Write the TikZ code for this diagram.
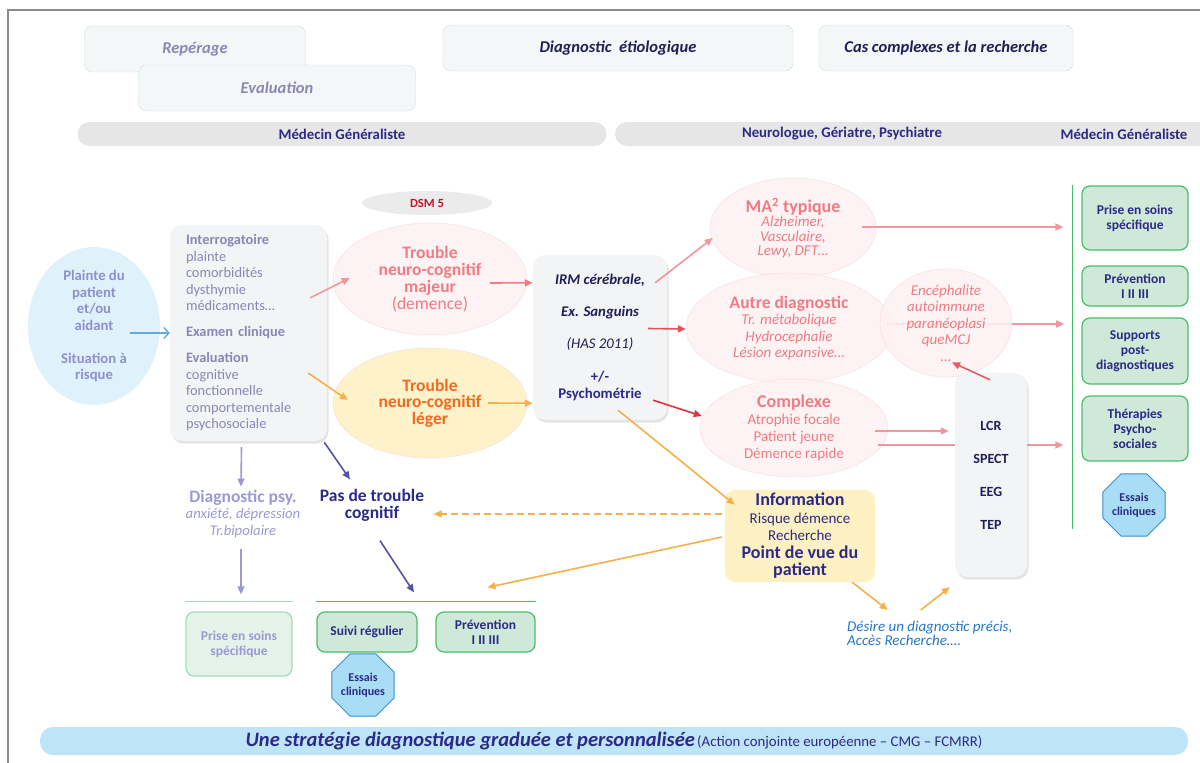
\documentclass[tikz,border=0pt]{standalone}
\usepackage{fontspec}
\setmainfont{Carlito}
\usepackage{xcolor}
\usetikzlibrary{shapes.geometric,arrows.meta,calc,shadows}

\definecolor{navy}{HTML}{2B2A86}
\definecolor{inknavy}{HTML}{1E1F55}
\definecolor{lavtext}{HTML}{8A87B6}
\definecolor{lavlight}{HTML}{9B99D3}
\definecolor{lavblue}{HTML}{8F8FCB}
\definecolor{salmon}{HTML}{EE7C84}
\definecolor{orgtext}{HTML}{F26A21}
\definecolor{orgarr}{HTML}{F6B04A}
\definecolor{pinkarr}{HTML}{F3959C}
\definecolor{redarr}{HTML}{E5303C}
\definecolor{skyarr}{HTML}{62AADD}
\definecolor{purparr}{HTML}{5553A8}
\definecolor{grnline}{HTML}{4CBB6C}
\definecolor{grnfill}{HTML}{CFE9D9}
\definecolor{grnpale}{HTML}{A6DBBA}
\definecolor{grnpalefill}{HTML}{E4F3EA}
\definecolor{octfill}{HTML}{A9DCF5}
\definecolor{octline}{HTML}{3A8ED0}
\definecolor{bandgray}{HTML}{E6E6E6}
\definecolor{bandblue}{HTML}{BEE4F8}
\definecolor{boxgray}{HTML}{F4F7F7}
\definecolor{boxline}{HTML}{D3DBDB}
\definecolor{panelgray}{HTML}{F3F4F6}
\definecolor{infofill}{HTML}{FDF1C3}
\definecolor{descblue}{HTML}{2477C6}
\definecolor{skyfill}{HTML}{DFF2FB}
\definecolor{pinkfill}{HTML}{FDF1F2}
\definecolor{pinkedge}{HTML}{F9DADD}
\definecolor{yelfill}{HTML}{FDF0C2}
\definecolor{dsmgray}{HTML}{EBEBEB}
\definecolor{dsmred}{HTML}{C01530}
\definecolor{framegray}{HTML}{8C8C8C}

\begin{document}
\begin{tikzpicture}[
  x=1pt, y=-1pt,
  every node/.style={align=center},
  phase/.style={draw=boxline, fill=boxgray, rounded corners=8pt, minimum height=46pt, font=\fontsize{16.5}{19}\selectfont\bfseries\itshape},
  band/.style={fill=bandgray, rounded corners=12pt, minimum height=24pt},
  who/.style={text=navy, font=\fontsize{14.8}{17}\selectfont\bfseries},
  cloud/.style={ellipse, draw=pinkedge, fill=pinkfill, fill opacity=0.88, text opacity=1, text=salmon, inner sep=0pt},
  panel/.style={fill=panelgray, rounded corners=12pt, drop shadow={shadow xshift=1.5pt, shadow yshift=-2.5pt, opacity=0.22}},
  care/.style={draw=grnline, fill=grnfill, line width=1.2pt, rounded corners=8pt, text=navy, minimum width=106pt, font=\fontsize{13.5}{15}\selectfont\bfseries},
  octo/.style={regular polygon, regular polygon sides=8, draw=octline, fill=octfill, line width=1pt, minimum size=64pt, inner sep=0pt, text=navy, font=\fontsize{12}{14}\selectfont\bfseries},
  arr/.style={-{Triangle[length=8pt,width=7pt]}, line width=1.6pt}
]
\useasboundingbox (0,0) rectangle (1200,763);
\draw[framegray, line width=1.5pt] (8,775) -- (8,10) -- (1210,10);

\node[phase, text=lavtext, minimum width=221pt] (reperage) at (195,49) {Repérage};
\node[phase, text=lavtext, minimum width=277pt] (evaluation) at (277,88) {Evaluation};
\node[phase, text=inknavy, minimum width=350pt] (etio) at (618,48) {Diagnostic\ \ étiologique};
\node[phase, text=inknavy, minimum width=254pt] (complexes) at (946,48) {Cas complexes et la recherche};

\node[band, who, minimum width=529pt] (mgband) at (342,134) {Médecin Généraliste};
\node[band, minimum width=600pt] (specband) at (915,134) {};
\node[who] (speclabel) at (842,134) {Neurologue, Gériatre, Psychiatre};
\node[who] (mgright) at (1124,134) {Médecin Généraliste};

\node[ellipse, fill=dsmgray, minimum width=130pt, minimum height=24pt, text=dsmred, font=\fontsize{12.5}{14}\selectfont\bfseries] (dsm) at (427,203) {DSM 5};

\node[ellipse, fill=skyfill, minimum width=132pt, minimum height=138pt, inner sep=0pt, text=lavblue, font=\fontsize{14.7}{16.5}\selectfont\bfseries] (plainte) at (94,326) {Plainte du\\patient\\et/ou\\aidant\\[16.5pt]Situation à\\risque};

\node[panel, minimum width=157pt, minimum height=216pt, text=lavtext, text width=125pt, align=left, font=\fontsize{14.4}{16.5}\selectfont] (interro) at (248.5,333) {\textbf{Interrogatoire}\\plainte\\comorbidités\\dysthymie\\médicaments…\\[9.5pt]\textbf{Examen clinique}\\[9.5pt]\textbf{Evaluation}\\cognitive\\fonctionnelle\\comportementale\\psychosociale};

\node[cloud, minimum width=194pt, minimum height=112pt, font=\fontsize{17.5}{17}\selectfont\bfseries] (majeur) at (430,279) {Trouble\\neuro-cognitif\\majeur\\{\mdseries (demence)}};
\node[cloud, fill=yelfill, minimum width=194pt, minimum height=110pt, text=orgtext, font=\fontsize{17.5}{16.5}\selectfont\bfseries] (leger) at (430,403) {Trouble\\neuro-cognitif\\léger};

\node[panel, minimum width=134pt, minimum height=165pt, text=inknavy, font=\fontsize{14.8}{17}\selectfont\bfseries] (irm) at (600,337.5) {{\itshape IRM cérébrale,}\\[15pt]{\itshape Ex. Sanguins}\\[15pt]{\mdseries\itshape (HAS 2011)}\\[16pt]{\color{navy}+/-}\\{\color{navy}Psychométrie}};

\node[cloud, minimum width=166pt, minimum height=100pt, font=\fontsize{15}{14.5}\selectfont\itshape] (ma2) at (793,228) {{\fontsize{18}{17}\selectfont\bfseries\upshape MA\textsuperscript{2} typique}\\Alzheimer,\\Vasculaire,\\Lewy, DFT…};
\node[cloud, minimum width=206pt, minimum height=110pt, font=\fontsize{15}{16.5}\selectfont\itshape] (autre) at (789,328) {{\fontsize{17.5}{17}\selectfont\bfseries\upshape Autre diagnostic}\\Tr. métabolique\\Hydrocephalie\\Lésion expansive…};
\draw[arr, pinkarr] ($(autre.east)+(-5,-4)$) coordinate (autreout) -- ++(177,0) coordinate (gl2);
\node[cloud, minimum width=132pt, minimum height=94pt, font=\fontsize{15}{16.5}\selectfont\itshape] (enceph) at (946,323) {Encéphalite\\autoimmune\\paranéoplasi\\queMCJ\\…};
\node[cloud, minimum width=188pt, minimum height=98pt, font=\fontsize{15}{17}\selectfont] (complexe) at (794,428) {{\fontsize{18}{17}\selectfont\bfseries Complexe}\\Atrophie focale\\Patient jeune\\Démence rapide};

\node[care, minimum height=64pt] (priseR) at (1135,218) {Prise en soins\\spécifique};
\node[care, minimum height=40pt] (prevR) at (1135,286) {Prévention\\I II III};
\node[care, minimum height=66pt] (supports) at (1135,351) {Supports\\post-\\diagnostiques};
\node[care, minimum height=65pt] (therapies) at (1135,428.5) {Thérapies\\Psycho-\\sociales};
\node[octo] (essaisR) at (1134,505) {Essais\\cliniques};
\draw[grnline, line width=1.5pt] ($(priseR.north west)+(-9,0)$) -- ++(0,344);

\coordinate (gl1) at ($(priseR.west)+(-18,9)$);
\coordinate (gl3) at ($(therapies.west)+(-18,16.5)$);

\draw[arr, pinkarr] ($(complexe.east)+(-10,17)$) -- (gl3);
\node[panel, minimum width=72pt, minimum height=204pt, text=inknavy, font=\fontsize{14}{33}\selectfont\bfseries] (lcr) at (991,475) {LCR\\SPECT\\EEG\\TEP};

\node[fill=infofill, rounded corners=10pt, minimum width=150pt, minimum height=92pt, text=navy, font=\fontsize{15}{17.5}\selectfont] (info) at (800,536) {{\fontsize{18}{18}\selectfont\bfseries Information}\\Risque démence\\Recherche\\{\fontsize{18}{19}\selectfont\bfseries Point de vue du}\\{\fontsize{18}{19}\selectfont\bfseries patient}};
\node[anchor=north west, inner sep=0pt, align=left, text=descblue, font=\fontsize{15}{12.5}\selectfont\itshape] (desire) at (847,621) {Désire un diagnostic précis,\\Accès Recherche….};

\node[text=lavlight, font=\fontsize{14.7}{16.5}\selectfont\itshape] (diagpsy) at (243,514) {{\fontsize{17.5}{17}\selectfont\bfseries\upshape Diagnostic psy.}\\anxiété, dépression\\Tr.bipolaire};
\node[text=navy, font=\fontsize{17.5}{17}\selectfont\bfseries] (pas) at (372,505) {Pas de trouble\\cognitif};

\node[care, draw=grnpale, fill=grnpalefill, text=lavlight, minimum height=64pt] (priseL) at (239,644) {Prise en soins\\spécifique};
\node[care, minimum width=100pt, minimum height=40pt] (suivi) at (367,632) {Suivi régulier};
\node[care, minimum width=99pt, minimum height=40pt] (prevL) at (485.5,632) {Prévention\\I II III};
\node[octo] (essaisL) at (363,685) {Essais\\cliniques};
\draw[grnpale, line width=1.2pt] ($(priseL.north west)+(0,-10)$) -- ($(priseL.north east)+(0,-10)$);
\draw[grnline, line width=1.2pt] ($(suivi.north west)+(0,-10)$) -- ($(prevL.north east)+(0,-10)$);

\node[fill=bandblue, rounded corners=13pt, minimum width=1148pt, minimum height=28pt, text=navy] (strategie) at (614,741) {{\fontsize{20.5}{22}\selectfont\bfseries\itshape Une stratégie diagnostique graduée et personnalisée}\ {\fontsize{14.8}{16}\selectfont (Action conjointe européenne – CMG – FCMRR)}};

\draw[-{Straight Barb[length=5pt,width=11pt]}, line width=1.4pt, skyarr] ($(plainte.center)+(36,7)$) -- (interro.west);
\draw[arr, pinkarr] ($(interro.north east)+(-17,73)$) -- ($(majeur.west)+(17,-1)$);
\draw[arr, orgarr] ($(interro.east)+(-19,40)$) -- ($(leger.west)+(15,-3)$);
\draw[arr, salmon] ($(majeur.east)+(-37,4)$) -- ($(irm.north west)+(0,28)$);
\draw[arr, orgarr] ($(leger.east)+(-39,0)$) -- ($(irm.south west)+(0,-17)$);
\draw[arr, pinkarr] ($(irm.north east)+(-12,28)$) -- ($(ma2.west)+(3,10)$);
\draw[arr, redarr!85] ($(irm.east)+(-19,-9)$) -- ($(autre.west)+(0,1)$);
\draw[arr, redarr] ($(irm.south east)+(-14,-20)$) -- ($(complexe.west)+(2,-12)$);
\draw[arr, orgarr] ($(irm.south)+(18,-10)$) -- ($(info.north west)+(10,15)$);
\draw[arr, pinkarr] ($(ma2.east)+(-14,-1)$) -- (gl1);
\draw[arr, pinkarr] ($(complexe.east)+(-13,3)$) -- ($(lcr.west)+(-6,-44)$);
\draw[arr, redarr!80] ($(lcr.north)+(-1,7)$) -- ($(enceph.south)+(6,-15)$);
\draw[arr, orgarr, dash pattern=on 7pt off 4pt] ($(info.west)+(-3,-22)$) -- ($(pas.east)+(6,9)$);
\draw[arr, orgarr] ($(info.west)+(-3,1)$) -- ($(prevL.north)+(2,-24)$);
\draw[arr, orgarr] ($(info.south east)+(-23,0)$) -- ($(desire.north)+(-42,-11)$);
\draw[arr, orgarr] ($(desire.north)+(-9,-11)$) -- ($(lcr.south west)+(-5,10)$);
\draw[arr, lavlight] ($(interro.south)+(-7,6)$) -- ($(diagpsy.north)+(-2,0)$);
\draw[arr, lavlight] ($(diagpsy.south)+(-2,8)$) -- ($(priseL.north)+(2,-17)$);
\draw[arr, purparr] ($(interro.south east)+(-3,1)$) -- ($(pas.north)+(-22,-6)$);
\draw[arr, purparr] ($(pas.south)+(8,16)$) -- ($(suivi.north)+(47,-19)$);
\end{tikzpicture}
\end{document}
